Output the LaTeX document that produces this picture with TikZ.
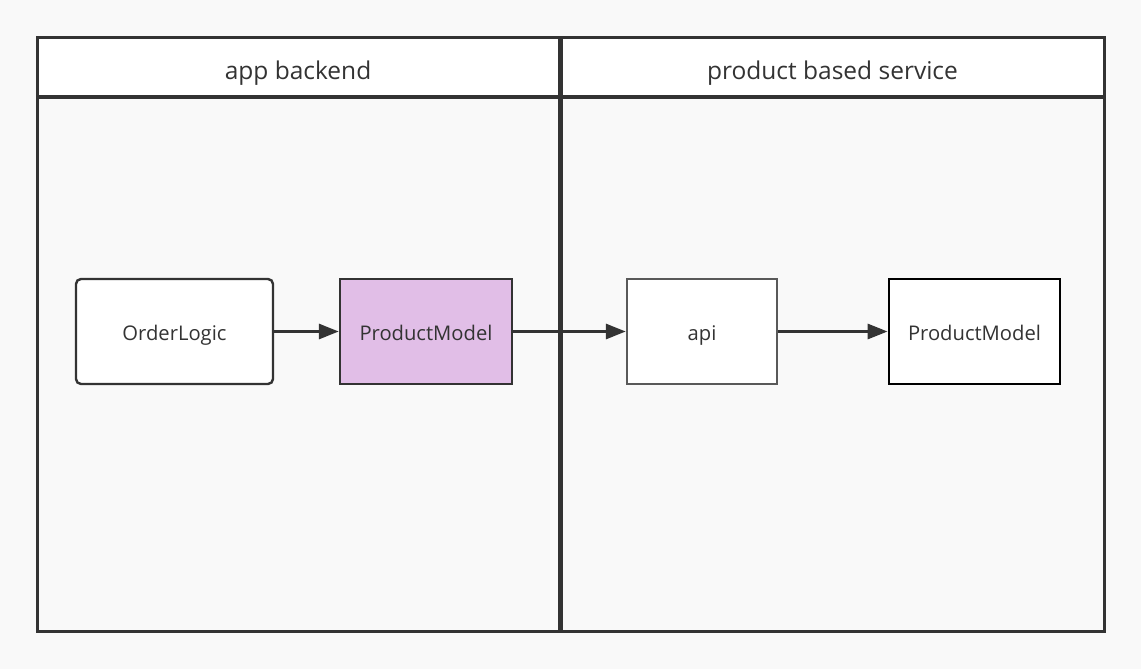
\documentclass[tikz,border=0pt]{standalone}
\usepackage{fontspec}
\setmainfont{Open Sans}
\usetikzlibrary{arrows.meta}
\tikzset{>={Triangle[length=20pt,width=15pt]}}
\colorlet{pageColor}{black!2.5}
\colorlet{penColor}{black!80}
\definecolor{modelColor}{HTML}{E1BEE7}
\tikzset{
  lane/.style={draw=penColor,line width=3pt},
  lanehead/.style={lane,fill=white,text=penColor,font=\fontsize{24.5}{28}\selectfont,text height=28pt,text depth=3.5pt},
  box/.style={draw=penColor,line width=2.4pt,fill=white,text=penColor,minimum height=105pt,font=\fontsize{20.2}{24}\selectfont,inner sep=0pt,text height=20pt,text depth=3pt},
  link/.style={->,draw=penColor,line width=3pt}
}
\begin{document}
\begin{tikzpicture}[x=1pt,y=-1pt]
				\fill[pageColor] (0,0) rectangle (1141,669);
				\useasboundingbox (0,0) rectangle (1141,669);
				% lanes
				\draw[lane,fill=pageColor] (37,38) rectangle (559,631);
				\draw[lane,fill=pageColor] (561,38) rectangle (1104,631);
				\node[lanehead,minimum width=522pt,minimum height=59pt] (backend) at (298,67.5) {app backend};
				\node[lanehead,minimum width=543pt,minimum height=59pt] (service) at (832.5,67.5) {product based service};
				% boxes
				\node[box,rounded corners=5pt,minimum width=197pt] (logic) at (174.5,331.5) {OrderLogic};
				\node[box,fill=modelColor,minimum width=172pt] (model) at (426,331.5) {ProductModel};
				\node[box,draw=black!65,minimum width=150pt] (api) at (702,331.5) {api};
				\node[box,draw=black,line width=2.8pt,minimum width=171pt] (remote) at (974.5,331.5) {ProductModel};
				% links
				\draw[link] (logic) -- (model);
				\draw[link] (model) -- (api);
				\draw[link] (api) -- (remote);
\end{tikzpicture}
\end{document}
